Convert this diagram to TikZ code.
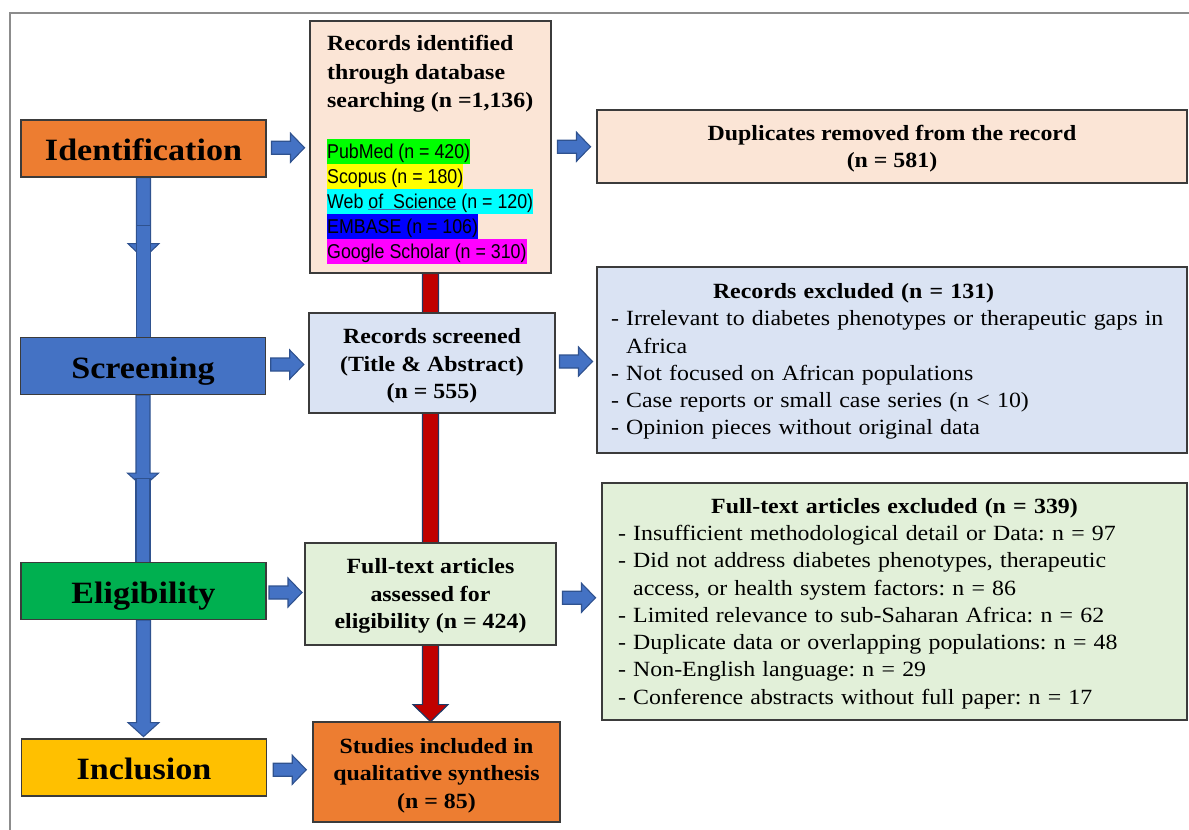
\documentclass[tikz,border=0pt]{standalone}
\usepackage{fontspec}
\setmainfont{Liberation Serif}[FakeStretch=1.1]
\newfontfamily\listsans{Liberation Sans}[FakeStretch=0.89]
\usetikzlibrary{calc}
\definecolor{cIdent}{HTML}{ED7D31}
\definecolor{cScreen}{HTML}{4472C4}
\definecolor{cElig}{HTML}{00B050}
\definecolor{cIncl}{HTML}{FFC000}
\definecolor{cPeach}{HTML}{FBE5D6}
\definecolor{cLblue}{HTML}{DAE3F3}
\definecolor{cLgreen}{HTML}{E2F0D9}
\definecolor{boxline}{HTML}{3B3B3B}
\definecolor{arrblue}{HTML}{4472C4}
\definecolor{arrblueline}{HTML}{2F528F}
\definecolor{arrred}{HTML}{C00000}
\definecolor{arrredline}{HTML}{203864}
\definecolor{framecol}{HTML}{8C8C8C}
\definecolor{hlgreen}{HTML}{00FF00}
\definecolor{hlyellow}{HTML}{FFFF00}
\definecolor{hlcyan}{HTML}{00FFFF}
\definecolor{hlblue}{HTML}{0000FF}
\definecolor{hlmagenta}{HTML}{FF00FF}
\definecolor{ulblue}{HTML}{4A6FB0}
\pgfdeclarelayer{bg}
\pgfsetlayers{bg,main}
\newcommand{\topstrut}[1]{\rule{0pt}{#1}}
\tikzset{
  box/.style={draw=boxline, line width=1.2pt, inner sep=0pt, text=black},
  stage/.style={box, minimum width=245pt, minimum height=57pt, text height=30pt, text depth=6pt,
    font=\fontsize{31pt}{36pt}\selectfont\bfseries},
  bodyb/.style={font=\fontsize{21.7pt}{27.3pt}\selectfont\bfseries\frenchspacing},
  bodyr/.style={font=\fontsize{21.7pt}{27.3pt}\selectfont\frenchspacing},
  linetxt/.style={anchor=base west, inner sep=0pt, bodyb},
  hl/.style={anchor=base west, inner sep=0pt, text height=19.5pt, text depth=5.5pt,
    font=\fontsize{20pt}{25pt}\listsans},
  bluearrow/.style={fill=arrblue, draw=arrblueline, line width=1.1pt, line join=miter},
  redarrow/.style={fill=arrred, draw=arrredline, line width=1.2pt, line join=miter},
  framestyle/.style={draw=framecol, line width=2pt}
}
% down block arrow: style, start, length, shaft half, head half, head length
\newcommand{\downblock}[6]{\draw[#1] (#2) ++(-#4,0) -- ++(0,{#3-#6}) -- ++({#4-#5},0) -- ++(#5,#6) -- ++(#5,-#6) -- ++({#4-#5},0) -- ++(0,{-(#3-#6)}) -- cycle;}
% shaft piece: style, start, length, half width
\newcommand{\shaftpiece}[4]{\draw[#1] (#2) ++(-#4,0) rectangle ++({2*#4},#3);}
% right block arrow between two nodes
\newcommand{\rightblock}[2]{\draw[bluearrow] ($(#1.east)!0.5!(#2.west)$) ++(-16.5,-6.5) -- ++(19,0) -- ++(0,-8) -- ++(14,14.5) -- ++(-14,14.5) -- ++(0,-8) -- ++(-19,0) -- cycle;}
\begin{document}
\begin{tikzpicture}[x=1pt,y=-1pt]
\useasboundingbox (0,0) rectangle (1189,830);

% stage boxes
\node[stage, fill=cIdent] (ident) at (143.5,148.5) {Identification};
\node[stage, fill=cScreen] (screen) at (143,366) {Screening};
\node[stage, fill=cElig] (elig) at (143.5,591) {Eligibility};
\node[stage, fill=cIncl] (incl) at (144,767.5) {Inclusion};

% middle column
\node[box, fill=cPeach, minimum width=241pt, minimum height=252pt] (recid) at (430.5,147) {};
\node[linetxt] (rt1) at (327,50.7) {Records identified};
\node[linetxt] (rt2) at (327,79) {through database};
\node[linetxt] (rt3) at (327,107) {searching (n =1,136)};
\node[hl, fill=hlgreen] (pubmed) at (327,158) {PubMed (n = 420)};
\node[hl, fill=hlyellow] (scopus) at (327,183) {Scopus (n = 180)};
\node[hl, fill=hlcyan] (wos) at (327,208) {Web \textcolor{ulblue}{\underline{\textcolor{black}{of\ \ Science}}} (n = 120)};
\node[hl, fill=hlblue] (embase) at (327,233) {EMBASE (n = 106)};
\node[hl, fill=hlmagenta] (gs) at (327,258) {Google Scholar (n = 310)};

\node[box, bodyb, fill=cLblue, minimum width=246pt, minimum height=100pt, align=center] (screened) at (432,363)
  {\topstrut{21pt}Records screened\\(Title \& Abstract)\\(n = 555)};
\node[box, bodyb, fill=cLgreen, minimum width=251pt, minimum height=102pt, align=center] (assessed) at (430.5,594)
  {\topstrut{19pt}Full-text articles\\assessed for\\eligibility (n = 424)};
\node[box, bodyb, fill=cIdent, minimum width=247pt, minimum height=100pt, align=center] (studies) at (436.5,772)
  {\topstrut{22pt}Studies included in\\qualitative synthesis\\(n = 85)};

% right column
\node[box, bodyb, fill=cPeach, minimum width=590pt, minimum height=73pt, align=center] (dup) at (892,146.5)
  {\topstrut{19pt}Duplicates removed from the record\\(n = 581)};
\node[box, bodyr, fill=cLblue, minimum height=186pt, text width=562pt, inner xsep=14pt, align=left] (recex) at (892,360)
  {\topstrut{18pt}\hspace*{102pt}\textbf{Records excluded (n = 131)}\\
   - Irrelevant to diabetes phenotypes or therapeutic gaps in\\
   \hphantom{- }Africa\\
   - Not focused on African populations\\
   - Case reports or small case series (n < 10)\\
   - Opinion pieces without original data};
\node[box, bodyr, fill=cLgreen, minimum height=237pt, text width=553pt, inner xsep=16pt, align=left] (ftex) at (894.5,601.5)
  {\topstrut{19pt}\makebox[553pt][c]{\bfseries Full-text articles excluded (n = 339)}\\
   - Insufficient methodological detail or Data: n = 97\\
   - Did not address diabetes phenotypes, therapeutic\\
   \hphantom{- }access, or health system factors: n = 86\\
   - Limited relevance to sub-Saharan Africa: n = 62\\
   - Duplicate data or overlapping populations: n = 48\\
   - Non-English language: n = 29\\
   - Conference abstracts without full paper: n = 17};

% horizontal block arrows
\rightblock{ident}{recid}
\rightblock{recid}{dup}
\rightblock{screen}{screened}
\rightblock{screened}{recex}
\rightblock{elig}{assessed}
\rightblock{assessed}{ftex}
\rightblock{incl}{studies}

\begin{pgfonlayer}{bg}
  % frame
  \draw[framestyle] (1189,12.5) -- (9.5,12.5) -- (9.5,830);
  % red main arrow
  \downblock{redarrow}{recid.south}{448}{8}{17.5}{17}
  % blue stage arrows
  \downblock{bluearrow}{ident.south}{81}{7}{15.5}{15}
  \shaftpiece{bluearrow}{$(ident.south)+(0,48)$}{113}{7}
  \downblock{bluearrow}{screen.south}{92}{7}{15.5}{14}
  \shaftpiece{bluearrow}{$(screen.south)+(0,83)$}{85}{7}
  \downblock{bluearrow}{elig.south}{116.5}{7}{15.5}{14}
\end{pgfonlayer}
\end{tikzpicture}
\end{document}
